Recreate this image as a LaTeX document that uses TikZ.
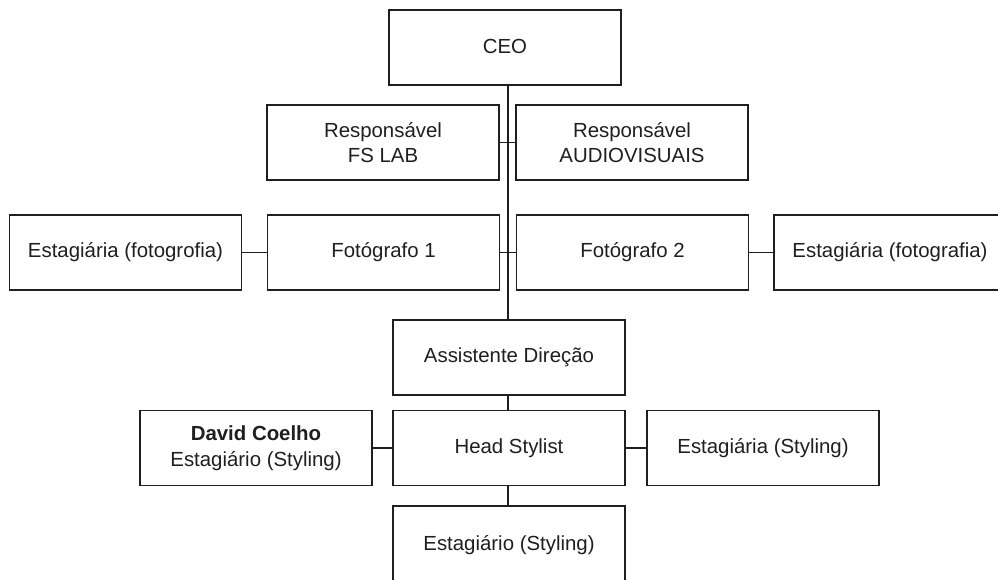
\documentclass[tikz,border=0pt]{standalone}
\usepackage{fontspec}
\setmainfont{Liberation Sans}
\begin{document}
\begin{tikzpicture}[x=1pt,y=-1pt,
  box/.style={draw=black!88, line width=1.6pt, fill=white, minimum width=232pt, minimum height=75pt,
    inner sep=0pt, align=center, text=black!88, font=\fontsize{20.4}{25.5}\selectfont},
  link/.style={draw=black!88, line width=1.8pt}]
\useasboundingbox (0,0) rectangle (998,580);
\clip (0,0) rectangle (998,580);
\node[box] (ceo) at (505,47.5) {\raisebox{1.5pt}{CEO}};
\node[box] (fslab) at (383,142.5) {Responsável\\FS LAB};
\node[box] (av) at (632,142.5) {Responsável\\AUDIOVISUAIS};
\node[box] (estl) at (125.5,252.5) {Estagiária (fotogrofia)};
\node[box] (foto1) at (383.5,252.5) {\raisebox{1.5pt}{Fotógrafo 1}};
\node[box] (foto2) at (632.5,252.5) {\raisebox{1.5pt}{Fotógrafo 2}};
\node[box] (estr) at (890,252.5) {Estagiária (fotografia)};
\node[box] (assist) at (509,357.5) {Assistente Direção};
\node[box] (david) at (256,448) {\textbf{David Coelho}\\Estagiário (Styling)};
\node[box] (head) at (509,448) {Head Stylist};
\node[box] (ests) at (763,448) {Estagiária (Styling)};
\node[box, minimum height=78pt] (bottom) at (509,545) {\raisebox{1.5pt}{Estagiário (Styling)}};
\coordinate (tt) at (508,85);
\coordinate (tb) at (508,320);
\draw[link] (tt) -- (tb);
\draw[link] (fslab.east) -- (av.west);
\draw[link] (foto1.east) -- (foto2.west);
\draw[link] (estl.east) -- (foto1.west);
\draw[link] (foto2.east) -- (estr.west);
\draw[link] (assist.south -| tb) -- (head.north -| tb);
\draw[link] (head.south -| tb) -- (bottom.north -| tb);
\draw[link] (david.east) -- (head.west);
\draw[link] (head.east) -- (ests.west);
\end{tikzpicture}
\end{document}
